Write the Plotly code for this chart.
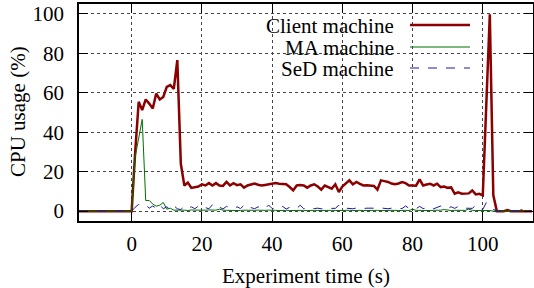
import plotly.graph_objects as go

# ---------------- data (1 s samples starting at t = -15 s) ----------------
client_cpu = [0, 0, 0, 0, 0, 0, 0, 0, 0, 0, 0, 0, 0, 0, 0,
              0, 30, 55.4, 51.2, 56.6, 54.5, 52, 59.6, 56.6, 57.9, 63, 63.9, 62, 76.6, 24,
              13, 14.5, 11.8, 12.3, 12.5, 13.6, 13, 14.2, 13, 14.2, 13, 12.8, 14.8, 13, 14.2,
              13.2, 13.6, 11.9, 13, 13.5, 14, 13.4, 13, 13.3, 13.6, 13.8, 14.2, 13.9, 13.6, 13.6,
              12.2, 10.5, 13, 13.2, 13, 11.9, 13, 13.6, 12.5, 10.9, 13, 12.2, 11.4, 13.6, 9.7,
              12.5, 14.2, 15.6, 13.6, 14.8, 13.8, 13, 13.1, 13, 12.8, 10.9, 15.6, 15.2, 14.8, 14,
              13.6, 14, 14.7, 14.2, 13, 13, 12.9, 16.1, 13, 13.5, 13.9, 13, 13.9, 12.2, 12.5,
              11.8, 12, 8.8, 9.5, 8.8, 8.8, 9, 10.5, 8.5, 8.8, 8, 54, 99.8, 8, 0,
              0, 0, 0.5, 0, 0, 0, 0, 0, 0, 0]

ma_cpu = [0, 0, 0, 0, 0, 0, 0, 0, 0, 0, 0, 0, 0, 0, 0,
          0, 27.5, 37, 46.5, 5.4, 5.4, 3.6, 2.5, 3, 4.4, 1, 1.5, 0.5, 0.6, 0.4,
          0.5, 0.3, 0.6, 0.5, 0.4, 0.3, 0.5, 0.6, 0.4, 0.5, 1, 0.5, 0.4, 0.3, 0.5,
          0.4, 0.3, 0.5, 0.4, 0.3, 0.4, 0.5, 0.3, 0.4, 0.5, 0.3, 0.4, 0.3, 0.5, 0.4,
          0.3, 0.4, 0.5, 0.3, 0.4, 0.3, 0.5, 0.4, 0.3, 0.4, 0.3, 0.5, 0.4, 0.3, 0.4,
          0.5, 0.3, 0.4, 0.3, 0.5, 0.4, 0.3, 0.4, 0.5, 0.3, 0.4, 0.3, 0.4, 0.5, 0.3,
          0.4, 0.3, 0.5, 0.4, 0.3, 1, 0.4, 0.3, 0.5, 0.4, 0.3, 0.4, 0.3, 0.5, 0.8,
          0.4, 0.3, 0.4, 0.5, 0.3, 0.4, 1, 0.4, 0.3, 0.3, 0.3, 0.4, 0.3, 0,
          0, 0, 0, 0, 0, 0, 0, 0.8, 0, 0]

sed_cpu = [0, 0, 0, 0, 0, 0, 0, 0, 0, 0, 0, 0, 0, 0, 0,
           0, 2, 3.4, 2.6, 3, 1.5, 2.6, 1.4, 3.2, 1.2, 2.2, 1, 2.8, 1.2, 0.8,
           2.4, 1.4, 2.2, 1.2, 2.6, 1.4, 1.8, 1.2, 3.2, 1.3, 2, 1.1, 2.4, 1.6, 1.2,
           2.2, 1.3, 3, 1.4, 1.8, 1.2, 2.2, 1.4, 1.2, 3.1, 1.3, 1.6, 1.2, 2.4, 1.1,
           1.9, 1.4, 1.3, 3, 1.2, 1.6, 1.4, 1.3, 1.5, 1.2, 1.4, 1.3, 1.5, 1.4, 3,
           1.3, 1.5, 1.4, 1.2, 1.6, 1.4, 1.3, 1.5, 1.4, 1.3, 1.5, 1.6, 1.4, 1.2, 1.5,
           1.4, 1.6, 1.3, 2.6, 1.4, 1.5, 1.2, 2.4, 1.3, 1.6, 2.2, 1.2, 1.8, 2.6, 1.4,
           1.6, 2.2, 1.4, 2.4, 1.6, 1.5, 1.5, 1.4, 2.9, 1.2, 0.9, 4.3, 2.5, 0.9, 0,
           0, 0, 0, 0, 0, 0, 0, 0, 0, 0]

start_time = -15
series_names = ["Client machine", "MA machine", "SeD machine"]
series_colors = ["#8B0000", "#007000", "#1A1AA0"]
series_widths = [2.5, 1, 1]
series_dash = ["solid", "solid", "dash"]
x_ticks = [0, 20, 40, 60, 80, 100]
y_ticks = [0, 20, 40, 60, 80, 100]
x_title = "Experiment time (s)"
y_title = "CPU usage (%)"

FONT = "Times New Roman"
FS = 21

fig = go.Figure()
for name, vals, col, w, d in zip(series_names, [client_cpu, ma_cpu, sed_cpu],
                                 series_colors, series_widths, series_dash):
    t = list(range(start_time, start_time + len(vals)))
    fig.add_trace(go.Scatter(x=t, y=vals, mode="lines", name=name,
                             line=dict(color=col, width=w, dash=d),
                             showlegend=False, hoverinfo="skip"))

W, H = 534, 288
ml, mr, mt, mb = 79, 1, 4, 67
pw, ph = W - ml - mr, H - mt - mb


def px(xp):
    return (xp - ml) / pw


def py(yp):
    return (H - mb - yp) / ph


# gnuplot-style key: opaque box, text right-aligned, sample line on the right
shapes = [dict(type="rect", xref="paper", yref="paper",
               x0=px(218), x1=px(481), y0=py(77), y1=py(16),
               fillcolor="white", line=dict(width=0), layer="between")]
annotations = []
row_y = [25, 47, 68]
for name, col, w, d, ry in zip(series_names, series_colors, series_widths, series_dash, row_y):
    annotations.append(dict(x=px(396), y=py(ry), xref="paper", yref="paper",
                            text=name, showarrow=False, xanchor="right", yanchor="middle",
                            height=21,
                            font=dict(family=FONT, size=FS, color="black")))
    shapes.append(dict(type="line", xref="paper", yref="paper",
                       x0=px(410), x1=px(470), y0=py(ry), y1=py(ry),
                       line=dict(color=col, width=w, dash=d), layer="above"))

# axis titles
annotations.append(dict(x=px(306), y=py(276), xref="paper", yref="paper", text=x_title,
                        showarrow=False, xanchor="center", yanchor="middle",
                        font=dict(family=FONT, size=FS, color="black")))
annotations.append(dict(x=px(18), y=py(112), xref="paper", yref="paper", text=y_title,
                        showarrow=False, xanchor="center", yanchor="middle", textangle=-90,
                        font=dict(family=FONT, size=FS, color="black")))

axis_common = dict(showline=True, linecolor="black", linewidth=1.5, mirror="ticks",
                   ticks="inside", ticklen=9, tickwidth=1, tickcolor="black",
                   showgrid=True, gridcolor="#444444", griddash="dot", gridwidth=1,
                   zeroline=False, automargin=False,
                   tickfont=dict(family=FONT, size=FS, color="black"))

fig.update_layout(
    width=W, height=H,
    margin=dict(l=ml, r=mr, t=mt, b=mb, autoexpand=False),
    paper_bgcolor="white", plot_bgcolor="white",
    font=dict(family=FONT, size=FS, color="black"),
    xaxis=dict(range=[-15, 114.3], tickvals=x_ticks, ticklabelstandoff=3, **axis_common),
    yaxis=dict(range=[-5, 105], tickvals=y_ticks, ticklabelstandoff=9, **axis_common),
    shapes=shapes, annotations=annotations,
    hovermode=False,
)

fig.write_html("out.html", config={"displayModeBar": False},
               post_script="document.body.style.margin='0';document.body.style.padding='0';")
